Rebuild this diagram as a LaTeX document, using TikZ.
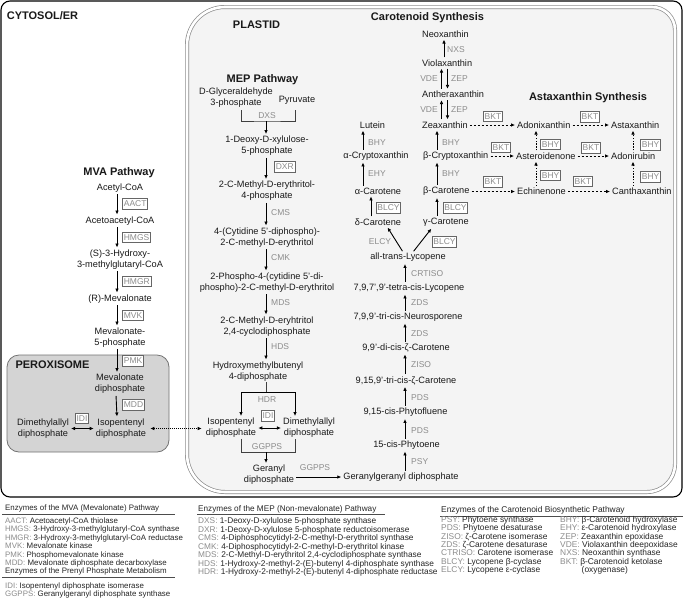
\documentclass[tikz,border=0pt]{standalone}
\usepackage{fontspec}
\setmainfont{Liberation Sans}
\usetikzlibrary{arrows.meta}
\definecolor{plastidbg}{HTML}{F4F4F4}
\definecolor{peroxbg}{HTML}{D4D4D4}
\definecolor{enzgray}{HTML}{8C8C8C}
\tikzset{
  met/.style={align=center, inner sep=1pt, font=\fontsize{9.2}{11}\selectfont, text=black!90},
  ttl/.style={inner sep=1pt, font=\fontsize{11}{13}\selectfont\bfseries, text=black!90},
  enz/.style={inner sep=1pt, font=\fontsize{8.5}{10}\selectfont, text=enzgray},
  enzbox/.style={enz, draw=black!60, line width=1.1pt, fill=white, inner sep=1.3pt, minimum height=10.5pt},
  rxn/.style={-{Latex[length=4pt,width=3.6pt]}, line width=0.9pt, shorten >=1pt, shorten <=1pt},
  bothway/.style={{Latex[length=4pt,width=3.6pt]}-{Latex[length=4pt,width=3.6pt]}, line width=0.9pt, shorten >=1pt, shorten <=1pt},
  bkt/.style={rxn, line width=0.8pt, dash pattern=on 2.2pt off 1.8pt},
  hyd/.style={rxn, line width=0.8pt, dash pattern=on 1.4pt off 1.4pt},
  exch/.style={bothway, line width=0.8pt, dash pattern=on 1pt off 1pt, shorten >=3pt, shorten <=3pt},
  brk/.style={line width=0.9pt, black!75},
  legt/.style={inner sep=0pt, font=\fontsize{7.9}{9}\selectfont, text=black!85},
  leg/.style={inner sep=0pt, font=\fontsize{7.9}{9}\selectfont, text=black!85},
  legline/.style={line width=0.6pt, black!70},
}
\begin{document}
\begin{tikzpicture}[x=1pt,y=-1pt]
\useasboundingbox (0,0) rectangle (685,614);
\fill[white] (0,0) rectangle (685,614);

% compartments
\draw[line width=1.1pt, rounded corners=9pt] (1,1) rectangle (682,497);
\draw[fill=plastidbg, draw=black!45, line width=0.7pt, double=white, double distance=2.6pt]
  (187,45) .. controls (187,24) and (204,7) .. (225,7) -- (652,7)
  .. controls (664.7,7) and (675,17.3) .. (675,30) -- (675,464)
  .. controls (675,479.5) and (662.5,492) .. (647,492) -- (225,492)
  .. controls (204,492) and (187,475) .. (187,454) -- cycle;
\draw[fill=peroxbg, draw=black!55, line width=0.8pt, rounded corners=12pt] (7,355) rectangle (169,452);

\node[ttl] (cyto) at (42.5,16) {CYTOSOL/ER};
\node[ttl] (plas) at (256.5,25) {PLASTID};
\node[ttl] (perox) at (52.5,365) {PEROXISOME};
\node[ttl] (mvat) at (119,173) {MVA Pathway};
\node[ttl] (mept) at (262.5,80) {MEP Pathway};
\node[ttl] (cart) at (427.5,18) {Carotenoid Synthesis};
\node[ttl] (astt) at (588,98) {Astaxanthin Synthesis};

% MVA pathway
\node[met] (acetyl) at (120,188) {Acetyl-CoA};
\node[met] (acac) at (120,221) {Acetoacetyl-CoA};
\node[met] (hmgcoa) at (120,259.5) {(S)-3-Hydroxy-\\3-methylglutaryl-CoA};
\node[met] (rmva) at (120,299) {(R)-Mevalonate};
\node[met] (mvap) at (120,337.5) {Mevalonate-\\5-phosphate};
\node[met] (mvapp) at (120,384) {Mevalonate\\diphosphate};
\node[met] (ippx) at (121,428.5) {Isopentenyl\\diphosphate};
\node[met] (dmappx) at (43,428.5) {Dimethylallyl\\diphosphate};
\draw[rxn] ([xshift=-3pt]acetyl.south) -- ([xshift=-3pt]acac.north);
\draw[rxn] ([xshift=-3pt]acac.south) -- ([xshift=-3pt]hmgcoa.north);
\draw[rxn] ([xshift=-3pt]hmgcoa.south) -- ([xshift=-3pt]rmva.north);
\draw[rxn] ([xshift=-3pt]rmva.south) -- ([xshift=-3pt]mvap.north);
\draw[rxn] ([xshift=-3pt]mvap.south) -- ([xshift=-3pt]mvapp.north);
\draw[rxn] ([xshift=-4pt]mvapp.south) -- ([xshift=-4pt]ippx.north);
\draw[bothway] (dmappx) -- (ippx);
\node[enzbox, anchor=west] (aact) at (122,204) {AACT};
\node[enzbox, anchor=west] (hmgs) at (122,237.5) {HMGS};
\node[enzbox, anchor=west] (hmgr) at (122,281.5) {HMGR};
\node[enzbox, anchor=west] (mvk) at (122,315.5) {MVK};
\node[enzbox, anchor=west] (pmk) at (122,361) {PMK};
\node[enzbox, anchor=west] (mdd) at (122,405) {MDD};
\node[enzbox] (idix) at (82,418.5) {IDI};

% MEP pathway
\coordinate (mx) at (266,0);
\node[met] (gap) at (236,98) {D-Glyceraldehyde\\3-phosphate};
\node[met] (pyr) at (297,100) {Pyruvate};
\node[met] (dxp) at (267,146) {1-Deoxy-D-xylulose-\\5-phosphate};
\node[met] (mep) at (267,191) {2-C-Methyl-D-erythritol-\\4-phosphate};
\node[met] (cdpme) at (267,237.5) {4-(Cytidine 5'-diphospho)-\\2-C-methyl-D-erythritol};
\node[met] (cdpmep) at (267,282.5) {2-Phospho-4-(cytidine 5'-di-\\phospho)-2-C-methyl-D-erythritol};
\node[met] (mecpp) at (267,326.5) {2-C-Methyl-D-eryhtritol\\2,4-cyclodiphosphate};
\node[met] (hmbpp) at (258,371.5) {Hydroxymethylbutenyl\\4-diphosphate};
\node[met] (ipp) at (231,428) {Isopentenyl\\diphosphate};
\node[met] (dmapp) at (309,428) {Dimethylallyl\\diphosphate};
\node[met] (gpp) at (269,475) {Geranyl\\diphosphate};
\node[met] (ggpp) at (401,477) {Geranylgeranyl diphosphate};
\coordinate (dxsl) at (241,110);
\coordinate (dxsr) at (295,110);
\coordinate (dxsm) at (266,121);
\draw[brk] (dxsl) |- (dxsm) -| (dxsr);
\node[enz] (dxs) at (267,115.5) {DXS};
\draw[rxn, shorten <=0pt] (dxsm) -- (dxp.north -| dxsm);
\draw[rxn] (dxp.south -| mx) -- (mep.north -| mx);
\draw[rxn] (mep.south -| mx) -- (cdpme.north -| mx);
\draw[rxn] (cdpme.south -| mx) -- (cdpmep.north -| mx);
\draw[rxn] (cdpmep.south -| mx) -- (mecpp.north -| mx);
\draw[rxn] (mecpp.south -| mx) -- (hmbpp.north -| mx);
\node[enzbox, anchor=west] (dxr) at (274,167) {DXR};
\node[enz, anchor=west] (cms) at (270,212.5) {CMS};
\node[enz, anchor=west] (cmk) at (270,258) {CMK};
\node[enz, anchor=west] (mds) at (270,302.5) {MDS};
\node[enz, anchor=west] (hds) at (270,346.5) {HDS};
\coordinate (hdrm) at (266,392);
\draw[brk] (hmbpp.south -| mx) -- (hdrm);
\draw[rxn, shorten <=0pt] (hdrm) -| ([xshift=10pt]ipp.north);
\draw[rxn, shorten <=0pt] (hdrm) -| ([xshift=-14pt]dmapp.north);
\node[enz] (hdr) at (267,400) {HDR};
\node[enzbox] (idi) at (268,416) {IDI};
\draw[bothway] (ipp) -- (dmapp);
\coordinate (ggm) at (266,452);
\draw[brk] ([xshift=10pt]ipp.south) |- (ggm) -| ([xshift=-14pt]dmapp.south);
\node[enz] (ggps1) at (267,446.5) {GGPPS};
\draw[rxn, shorten <=0pt] (ggm) -- (gpp.north -| ggm);
\draw[rxn] (gpp.east |- ggpp.west) -- (ggpp.west);
\node[enz] (ggps2) at (315,468) {GGPPS};
\draw[exch] (ippx.east) -- (ipp.west |- ippx.east);

% carotenoid chain
\coordinate (cx) at (405,0);
\node[met] (phyt) at (406.5,445) {15-cis-Phytoene};
\node[met] (phytf) at (405.5,412.5) {9,15-cis-Phytofluene};
\node[met] (tzc) at (406,380.5) {9,15,9'-tri-cis-ζ-Carotene};
\node[met] (dzc) at (406,348) {9,9'-di-cis-ζ-Carotene};
\node[met] (neur) at (408,317) {7,9,9'-tri-cis-Neurosporene};
\node[met] (plyc) at (409,288) {7,9,7',9'-tetra-cis-Lycopene};
\node[met] (lyc) at (408,257.5) {all-trans-Lycopene};
\draw[rxn] (ggpp.north -| cx) -- (phyt.south -| cx);
\draw[rxn] (phyt.north -| cx) -- (phytf.south -| cx);
\draw[rxn] (phytf.north -| cx) -- (tzc.south -| cx);
\draw[rxn] (tzc.north -| cx) -- (dzc.south -| cx);
\draw[rxn] (dzc.north -| cx) -- (neur.south -| cx);
\draw[rxn] (neur.north -| cx) -- (plyc.south -| cx);
\draw[rxn] (plyc.north -| cx) -- (lyc.south -| cx);
\node[enz, anchor=west] (psy) at (410,462) {PSY};
\node[enz, anchor=west] (pds2) at (410,430.5) {PDS};
\node[enz, anchor=west] (pds1) at (410,398) {PDS};
\node[enz, anchor=west] (ziso) at (410,365) {ZISO};
\node[enz, anchor=west] (zds2) at (410,334) {ZDS};
\node[enz, anchor=west] (zds1) at (410,303) {ZDS};
\node[enz, anchor=west] (crtiso) at (410,273.5) {CRTISO};

% alpha branch
\coordinate (ax) at (363,0);
\node[met] (dcar) at (378,222) {δ-Carotene};
\node[met] (acar) at (378,191) {α-Carotene};
\node[met] (acry) at (376,156) {α-Cryptoxanthin};
\node[met] (lut) at (372.5,125) {Lutein};
\draw[rxn] ([xshift=-5pt]lyc.north) -- ([xshift=9pt]dcar.south);
\draw[rxn] ([xshift=-7pt]dcar.north) -- ([xshift=-7pt]acar.south);
\draw[rxn] (acar.north -| ax) -- (acry.south -| ax);
\draw[rxn] (acry.north -| ax) -- (lut.south -| ax);
\node[enz] (elcy) at (380,242) {ELCY};
\node[enzbox] (blcy1) at (388.5,208) {BLCY};
\node[enz, anchor=west] (ehy) at (367,174) {EHY};
\node[enz, anchor=west] (bhy1) at (367,143) {BHY};

% beta branch and xanthophylls
\coordinate (bx) at (437,0);
\coordinate (nxsx) at (444,0);
\coordinate (vdex) at (441.5,0);
\coordinate (zepx) at (447.5,0);
\node[met, anchor=west] (gcar) at (422,222.5) {γ-Carotene};
\node[met, anchor=west] (bcar) at (422,191.5) {β-Carotene};
\node[met, anchor=west] (bcry) at (422,156) {β-Cryptoxanthin};
\node[met, anchor=west] (zea) at (421,125) {Zeaxanthin};
\node[met, anchor=west] (anth) at (421,94.5) {Antheraxanthin};
\node[met, anchor=west] (viol) at (421,63) {Violaxanthin};
\node[met, anchor=west] (neox) at (421,34) {Neoxanthin};
\draw[rxn] ([xshift=5pt]lyc.north) -- ([xshift=-14pt]gcar.south);
\draw[rxn] (gcar.north -| bx) -- (bcar.south -| bx);
\draw[rxn] (bcar.north -| bx) -- (bcry.south -| bx);
\draw[rxn] (bcry.north -| bx) -- (zea.south -| bx);
\draw[rxn] (zea.north -| vdex) -- (anth.south -| vdex);
\draw[rxn] (anth.south -| zepx) -- (zea.north -| zepx);
\draw[rxn] (anth.north -| vdex) -- (viol.south -| vdex);
\draw[rxn] (viol.south -| zepx) -- (anth.north -| zepx);
\draw[rxn] (viol.north -| nxsx) -- (neox.south -| nxsx);
\node[enzbox] (blcy3) at (444.5,242) {BLCY};
\node[enzbox] (blcy2) at (455.5,208) {BLCY};
\node[enz, anchor=west] (bhy3) at (441,174) {BHY};
\node[enz, anchor=west] (bhy2) at (441,143) {BHY};
\node[enz, anchor=east] (vde1) at (439,110) {VDE};
\node[enz, anchor=west] (zep1) at (450,110) {ZEP};
\node[enz, anchor=east] (vde2) at (439,79) {VDE};
\node[enz, anchor=west] (zep2) at (450,79) {ZEP};
\node[enz, anchor=west] (nxs) at (446,49.5) {NXS};

% astaxanthin synthesis
\coordinate (sx1) at (536,0);
\coordinate (sx2) at (633,0);
\node[met, anchor=west] (adox) at (516,125) {Adonixanthin};
\node[met, anchor=west] (asta) at (610,125) {Astaxanthin};
\node[met, anchor=west] (aste) at (515,156) {Asteroidenone};
\node[met, anchor=west] (ador) at (610,156) {Adonirubin};
\node[met, anchor=west] (echi) at (516,191.5) {Echinenone};
\node[met, anchor=west] (cant) at (611,191.5) {Canthaxanthin};
\draw[bkt] (zea) -- (adox);
\draw[bkt] (adox) -- (asta);
\draw[bkt] (bcry) -- (aste);
\draw[bkt] (aste) -- (ador);
\draw[bkt] (bcar) -- (echi);
\draw[bkt] (echi) -- (cant);
\draw[hyd] (aste.north -| sx1) -- (adox.south -| sx1);
\draw[hyd] (echi.north -| sx1) -- (aste.south -| sx1);
\draw[hyd] (ador.north -| sx2) -- (asta.south -| sx2);
\draw[hyd] (cant.north -| sx2) -- (ador.south -| sx2);
\node[enzbox] (bkt1) at (493,116.5) {BKT};
\node[enzbox] (bkt2) at (590,117) {BKT};
\node[enzbox] (bkt3) at (501,147.5) {BKT};
\node[enzbox] (bkt4) at (591,148) {BKT};
\node[enzbox] (bkt5) at (493,182) {BKT};
\node[enzbox] (bkt6) at (583,181.5) {BKT};
\node[enzbox, anchor=west] (bhy4) at (540,144.5) {BHY};
\node[enzbox, anchor=west] (bhy5) at (540,175.5) {BHY};
\node[enzbox, anchor=west] (bhy6) at (640,145) {BHY};
\node[enzbox, anchor=west] (bhy7) at (640,177) {BHY};

% legend
\node[legt, anchor=base west] (legmva) at (5,510.5) {Enzymes of the MVA (Mevalonate) Pathway};
\draw[legline] (2,514) -- (175,514);
\foreach \ab/\txt [count=\n] in {
        AACT/Acetoacetyl-CoA thiolase,
        HMGS/3-Hydroxy-3-methylglutaryl-CoA synthase,
        HMGR/3-Hydroxy-3-methylglutaryl-CoA reductase,
        MVK/Mevalonate kinase,
        PMK/Phosphomevalonate kinase,
        MDD/Mevalonate diphosphate decarboxylase
  } {
       \node[leg, anchor=base west] (lmva\n) at (5,{515.1+8.4*\n}) {\textcolor{enzgray}{\ab:} \txt};
  }
\node[legt, anchor=base west] (legpp) at (5,573.5) {Enzymes of the Prenyl Phosphate Metabolism};
\draw[legline] (2,577) -- (175,577);
\foreach \ab/\txt [count=\n] in {
        IDI/Isopentenyl diphosphate isomerase,
        GGPPS/Geranylgeranyl diphosphate synthase
  } {
       \node[leg, anchor=base west] (lpp\n) at (5,{580.1+8.4*\n}) {\textcolor{enzgray}{\ab:} \txt};
  }
\node[legt, font=\fontsize{8.2}{9}\selectfont, anchor=base west] (legmep) at (198,511) {Enzymes of the MEP (Non-mevalonate) Pathway};
\draw[legline] (197,514.5) -- (385,514.5);
\foreach \ab/\txt [count=\n] in {
        DXS/1-Deoxy-D-xylulose 5-phosphate synthase,
        DXR/1-Deoxy-D-xylulose 5-phosphate reductoisomerase,
        CMS/4-Diphosphocytidyl-2-C-methyl-D-erythritol synthase,
        CMK/4-Diphosphocytidyl-2-C-methyl-D-erythritol kinase,
        MDS/{2-C-Methyl-D-erythritol 2,4-cyclodiphosphate synthase},
        HDS/1-Hydroxy-2-methyl-2-(E)-butenyl 4-diphosphate synthase,
        HDR/1-Hydroxy-2-methyl-2-(E)-butenyl 4-diphosphate reductase
  } {
       \node[leg, font=\fontsize{8.3}{9}\selectfont, anchor=base west] (lmep\n) at (198,{515.1+8.5*\n}) {\textcolor{enzgray}{\ab:} \txt};
  }
\node[legt, font=\fontsize{8.4}{9}\selectfont, anchor=base west] (legcar) at (441,512.5) {Enzymes of the Carotenoid Biosynthetic Pathway};
\draw[legline] (440,516) -- (683,516);
\foreach \ab/\txt [count=\n] in {
        PSY/Phytoene synthase,
        PDS/Phytoene desaturase,
        ZISO/ζ-Carotene isomerase,
        ZDS/ζ-Carotene desaturase,
        CTRISO/Carotene isomerase,
        BLCY/Lycopene β-cyclase,
        ELCY/Lycopene ε-cyclase
  } {
       \node[leg, font=\fontsize{8.4}{9}\selectfont, anchor=base west] (lcar\n) at (441,{514.2+8.35*\n}) {\textcolor{enzgray}{\ab:} \txt};
  }
\foreach \ab/\txt [count=\n] in {
        BHY/β-Carotenoid hydroxylase,
        EHY/ε-Carotenoid hydroxylase,
        ZEP/Zeaxanthin epoxidase,
        VDE/Violaxanthin deepoxidase,
        NXS/Neoxanthin synthase,
        BKT/β-Carotenoid ketolase
  } {
       \node[leg, font=\fontsize{8.4}{9}\selectfont, anchor=base west] (lxan\n) at (560,{514.2+8.35*\n}) {\textcolor{enzgray}{\ab:} \txt};
  }
\node[leg, font=\fontsize{8.4}{9}\selectfont, anchor=base west] (loxy) at (581.5,572.7) {(oxygenase)};
\end{tikzpicture}
\end{document}
